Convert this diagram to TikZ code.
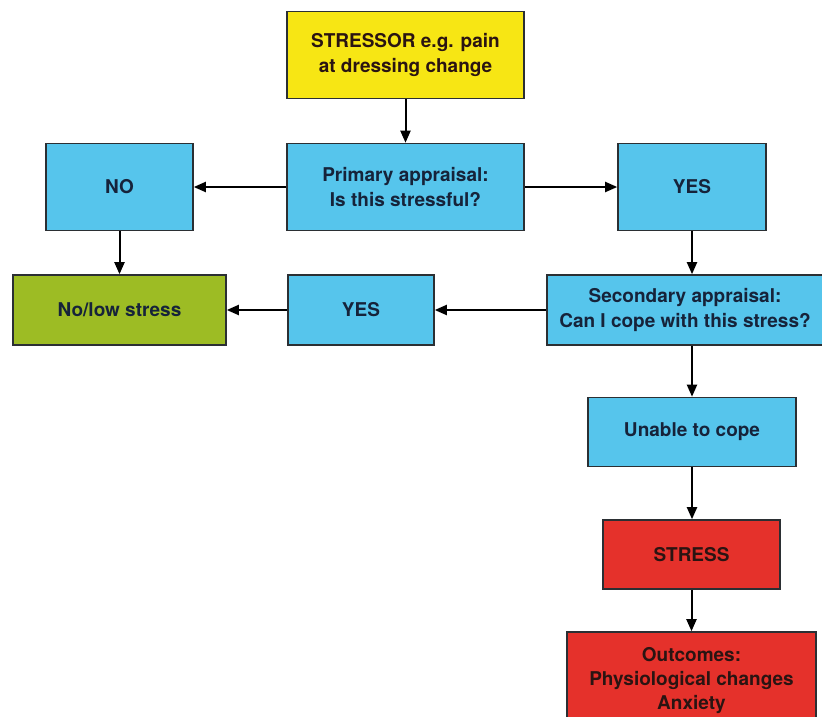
\documentclass[tikz,border=0pt]{standalone}
\usepackage{fontspec}
\setmainfont{TeX Gyre Heros}
\usetikzlibrary{arrows.meta}
\definecolor{cyellow}{HTML}{F7E614}
\definecolor{cblue}{HTML}{56C5EC}
\definecolor{cgreen}{HTML}{9DBC24}
\definecolor{cred}{HTML}{E5312B}
\definecolor{ctext}{HTML}{16233A}
\definecolor{credtext}{HTML}{2A1412}
\definecolor{cedge}{HTML}{2B2F33}
\tikzset{
  box/.style={draw=cedge, line width=1.6pt, align=center, inner sep=0pt,
    font=\fontsize{19}{25}\selectfont\bfseries, text=ctext},
  conn/.style={-{Triangle[length=12pt,width=10pt]}, line width=2pt, black},
}
\begin{document}
\begin{tikzpicture}[x=1pt,y=-1pt]
\useasboundingbox (0,0) rectangle (822,717);
\clip (0,0) rectangle (822,717);
\fill[white] (0,0) rectangle (822,717);
% nodes (centres)
\node[box, fill=cyellow, text=credtext, minimum width=237pt, minimum height=87pt] (stressor) at (405.5,55) {STRESSOR e.g. pain\\at dressing change};
\node[box, fill=cblue, minimum width=237pt, minimum height=87pt] (primary) at (405.5,187) {Primary appraisal:\\Is this stressful?};
\node[box, fill=cblue, minimum width=147pt, minimum height=87pt] (no) at (119.5,187) {NO};
\node[box, fill=cblue, minimum width=148pt, minimum height=87pt] (yes1) at (692,187) {YES};
\node[box, fill=cgreen, minimum width=213pt, minimum height=70pt] (low) at (119.5,310) {No/low stress};
\node[box, fill=cblue, minimum width=146pt, minimum height=70pt] (yes2) at (361,310) {YES};
\node[box, fill=cblue, minimum width=276pt, minimum height=70pt] (secondary) at (685,310) {Secondary appraisal:\\Can I cope with this stress?};
\node[box, fill=cblue, minimum width=208pt, minimum height=69pt] (unable) at (692,432) {Unable to cope};
\node[box, fill=cred, text=credtext, minimum width=177pt, minimum height=69pt] (stress) at (691.5,554.5) {STRESS};
\node[box, fill=cred, text=credtext, minimum width=249pt, minimum height=100pt] (outcomes) at (691.5,682) {};
\node[font=\fontsize{19}{24}\selectfont\bfseries, text=credtext, align=center, inner sep=0pt] (outtext) at (691.5,681) {Outcomes:\\Physiological changes\\Anxiety};
% connectors
\draw[conn] (stressor) -- (primary);
\draw[conn] (primary) -- (no);
\draw[conn] (primary) -- (yes1);
\draw[conn] (no) -- (low);
\draw[conn] (yes1.south) -- (yes1.south |- secondary.north);
\draw[conn] (secondary.west) -- (yes2.east);
\draw[conn] (yes2) -- (low);
\draw[conn] (secondary.south -| unable.north) -- (unable.north);
\draw[conn] (unable.south) -- (unable.south |- stress.north);
\draw[conn] (stress) -- (outcomes);
\end{tikzpicture}
\end{document}
